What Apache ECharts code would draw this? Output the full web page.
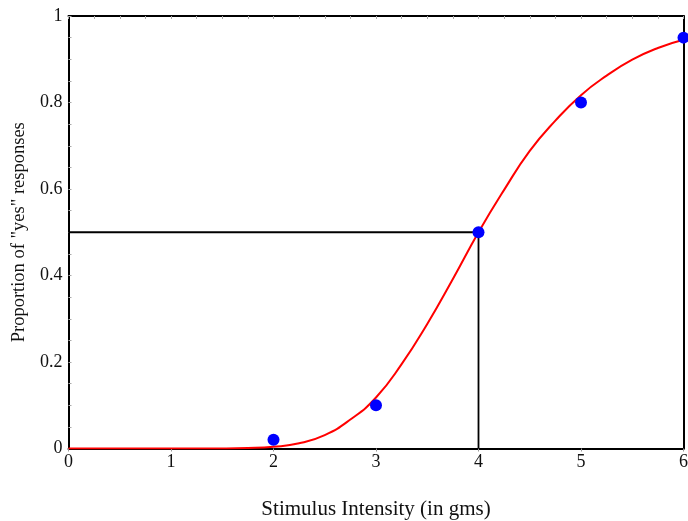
<!DOCTYPE html>
<html>
<head>
<meta charset="utf-8">
<script src="https://cdn.jsdelivr.net/npm/echarts@6/dist/echarts.min.js"></script>
<style>
  html, body { margin: 0; padding: 0; background: #fff; }
  #chart { width: 688px; height: 521px; }
</style>
</head>
<body>
<div id="chart"></div>
<script>
// Observed proportions of "yes" responses at each stimulus intensity
const intensities = [2, 3, 4, 5, 6];
const proportions = [0.02, 0.10, 0.50, 0.80, 0.95];

// Fitted psychometric curve, sampled every 0.25 gms
const curveX = [0, 0.25, 0.5, 0.75, 1, 1.25, 1.5, 1.75, 2, 2.25, 2.5, 2.75, 3,
                3.25, 3.5, 3.75, 4, 4.25, 4.5, 4.75, 5, 5.25, 5.5, 5.75, 6];
const curveY = [0, 0, 0, 0, 0, 0, 0.0001, 0.001, 0.004, 0.012, 0.031, 0.067, 0.118,
                0.195, 0.288, 0.392, 0.5, 0.598, 0.688, 0.758, 0.817, 0.862, 0.899, 0.926, 0.945];

// Threshold: intensity giving 50% "yes"
const threshold = 4;
const thresholdLevel = 0.5;

const xTicks = ['0', '1', '2', '3', '4', '5', '6'];
const yTicks = ['0', '0.2', '0.4', '0.6', '0.8', '1'];

const serif = '"Liberation Serif", "DejaVu Serif", serif';
const textColor = '#111';

const chart = echarts.init(document.getElementById('chart'), null, { renderer: 'canvas' });

chart.setOption({
  animation: false,
  backgroundColor: '#fff',
  grid: {
    left: 68.5, right: 4.5, top: 16, bottom: 72.5,
    containLabel: false, outerBoundsMode: 'none'
  },
  xAxis: [
    {
      type: 'value', position: 'bottom', min: 0, max: 6, interval: 1,
      name: 'Stimulus Intensity (in gms)', nameLocation: 'middle', nameGap: 50,
      nameTextStyle: { fontFamily: serif, fontSize: 21, color: textColor },
      axisLine: { show: true, onZero: false, lineStyle: { color: '#000', width: 2 } },
      axisTick: { show: true, inside: false, length: 3, lineStyle: { color: '#999', width: 1 } },
      axisLabel: {
        margin: 5, fontFamily: serif, fontSize: 18, color: textColor,
        formatter: v => xTicks[Math.round(v)]
      },
      splitLine: { show: false }
    },
    {
      type: 'value', position: 'top', min: 0, max: 6, interval: 0.25,
      axisLine: { show: true, onZero: false, lineStyle: { color: '#000', width: 2 } },
      axisTick: { show: true, inside: true, length: 3, lineStyle: { color: '#aaa', width: 1 } },
      axisLabel: { show: false },
      splitLine: { show: false }
    }
  ],
  yAxis: [
    {
      type: 'value', position: 'left', min: 0, max: 1, interval: 0.2,
      name: 'Proportion of "yes" responses', nameLocation: 'middle', nameGap: 40,
      nameTextStyle: { fontFamily: serif, fontSize: 18.5, color: textColor },
      axisLine: { show: true, onZero: false, lineStyle: { color: '#000', width: 2 } },
      axisTick: { show: true, inside: true, length: 3, lineStyle: { color: '#aaa', width: 1 } },
      minorTick: { show: true, splitNumber: 4, length: 3, lineStyle: { color: '#aaa', width: 1 } },
      axisLabel: {
        margin: 6, fontFamily: serif, fontSize: 18, color: textColor,
        formatter: v => yTicks[Math.round(v * 5)]
      },
      splitLine: { show: false }
    },
    {
      type: 'value', position: 'right', min: 0, max: 1, interval: 0.2,
      axisLine: { show: true, onZero: false, lineStyle: { color: '#000', width: 2 } },
      axisTick: { show: false },
      axisLabel: { show: false },
      splitLine: { show: false }
    }
  ],
  series: [
    {
      name: 'threshold',
      type: 'line',
      xAxisIndex: 0, yAxisIndex: 0,
      data: [[0, thresholdLevel], [threshold, thresholdLevel], [threshold, 0]],
      symbol: 'none',
      lineStyle: { color: '#000', width: 1.8 },
      z: 2
    },
    {
      name: 'fit',
      type: 'line',
      xAxisIndex: 0, yAxisIndex: 0,
      data: curveX.map((x, i) => [x, curveY[i]]),
      smooth: 0.5,
      symbol: 'none',
      lineStyle: { color: '#ff0000', width: 2 },
      z: 3
    },
    {
      name: 'observed',
      type: 'scatter',
      xAxisIndex: 0, yAxisIndex: 0,
      data: intensities.map((x, i) => [x, proportions[i]]),
      symbolSize: 12,
      itemStyle: { color: '#0000ff', opacity: 1 },
      z: 4
    }
  ]
});
</script>
</body>
</html>
